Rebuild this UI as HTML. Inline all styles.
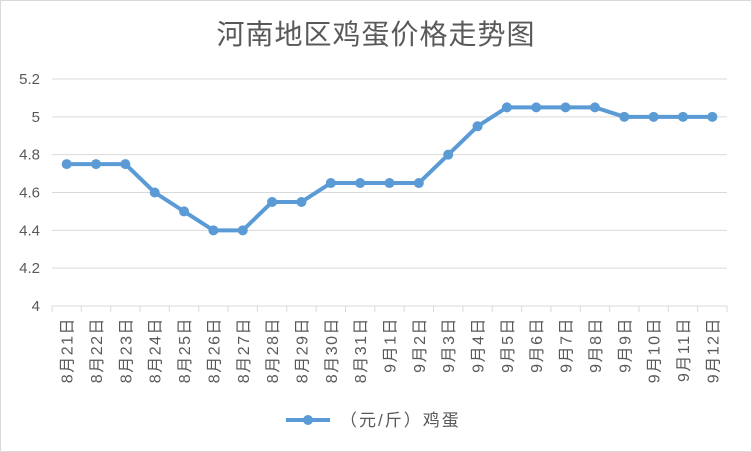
<!DOCTYPE html>
<html><head><meta charset="utf-8"><style>
body{margin:0;background:#fff;}
svg{display:block;font-family:"Liberation Sans","Noto Sans CJK SC",sans-serif;}
</style></head><body>
<svg id="c" width="752" height="452">
<rect x="0.5" y="0.5" width="751" height="451" fill="#fff" stroke="#d9d9d9"/>
<text x="376" y="44" text-anchor="middle" font-size="28" letter-spacing="1" fill="#595959">河南地区鸡蛋价格走势图</text>
<g id="grid"></g><g id="axis"></g><g id="series"></g>
<g>
<line x1="286" y1="420" x2="330" y2="420" stroke="#5b9bd5" stroke-width="4"/>
<circle cx="308" cy="420" r="5" fill="#5b9bd5"/>
<text x="340" y="426" font-size="17" letter-spacing="2" fill="#595959">（元/斤）鸡蛋</text>
</g>
</svg>
<script>
const categories=["8月21日","8月22日","8月23日","8月24日","8月25日","8月26日","8月27日","8月28日","8月29日","8月30日","8月31日","9月1日","9月2日","9月3日","9月4日","9月5日","9月6日","9月7日","9月8日","9月9日","9月10日","9月11日","9月12日"];
const values=[4.75,4.75,4.75,4.6,4.5,4.4,4.4,4.55,4.55,4.65,4.65,4.65,4.65,4.8,4.95,5.05,5.05,5.05,5.05,5,5,5,5];
const yTicks=[4,4.2,4.4,4.6,4.8,5,5.2];
const NS="http://www.w3.org/2000/svg";
const L=52,R=727,T=79,B=306,yMin=4,yMax=5.2;
const step=(R-L)/categories.length;
const x=i=>L+step*(i+0.5);
const y=v=>B-(v-yMin)/(yMax-yMin)*(B-T);
function mk(tag,attrs,parent){const e=document.createElementNS(NS,tag);for(const k in attrs)e.setAttribute(k,attrs[k]);document.getElementById(parent).appendChild(e);return e;}
yTicks.forEach(t=>{
 const g=mk('line',{x1:L,x2:R,y1:y(t),y2:y(t),stroke:'#d9d9d9','stroke-width':1},'grid');
 
 
 const lb=mk('text',{x:L-12,y:y(t)+5,'text-anchor':'end','font-size':15,fill:'#595959'},'axis');
 lb.textContent=String(t);
 
 
});
for(let i=0;i<=categories.length;i++){
 const tk=mk('line',{x1:L+step*i,x2:L+step*i,y1:B,y2:B+6,stroke:'#d9d9d9'},'axis');
 
 
}
categories.forEach((c,i)=>{
 const t=mk('text',{x:0,y:0,'text-anchor':'end','font-size':16,'letter-spacing':1.5,fill:'#595959',transform:`translate(${x(i)+6},317) rotate(-90)`},'axis');
 t.textContent=c;
 
 
});
const pl=mk('polyline',{points:values.map((v,i)=>x(i)+','+y(v)).join(' '),fill:'none',stroke:'#5b9bd5','stroke-width':4,'stroke-linejoin':'round'},'series');


values.forEach((v,i)=>{
 const p=mk('circle',{cx:x(i),cy:y(v),r:5,fill:'#5b9bd5'},'series');
 
 
});
</script>
</body></html>
